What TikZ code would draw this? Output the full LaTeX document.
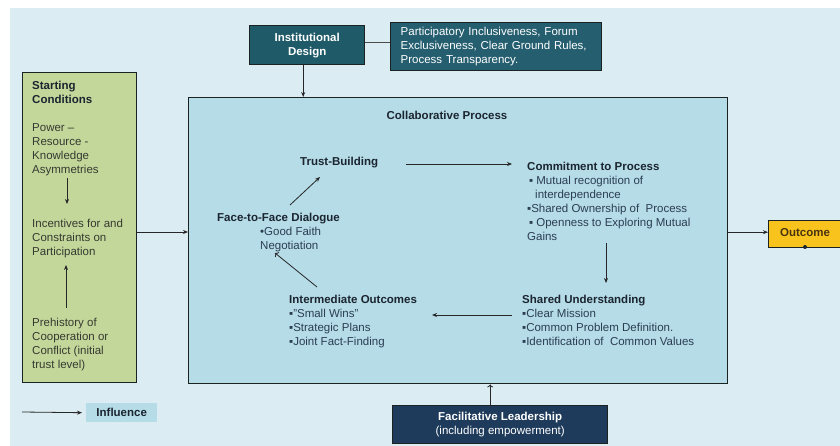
\documentclass[tikz,border=0pt]{standalone}
\usepackage{fontspec}
\setmainfont{Liberation Sans}
\usetikzlibrary{arrows.meta,calc}
\definecolor{bgblue}{HTML}{DCECF3}
\definecolor{procblue}{HTML}{B5DCE7}
\definecolor{scgreen}{HTML}{C4D79B}
\definecolor{idteal}{HTML}{1F5A68}
\definecolor{ptteal}{HTML}{245E6F}
\definecolor{flnavy}{HTML}{1E3B5B}
\definecolor{outgold}{HTML}{F7C31C}
\definecolor{headtxt}{HTML}{1B2530}
\definecolor{bodytxt}{HTML}{2C3D52}
\definecolor{sctxt}{HTML}{353A30}
\definecolor{outtxtc}{HTML}{4A3410}
\definecolor{edge}{HTML}{1A2222}
\begin{document}
\begin{tikzpicture}[x=1pt,y=-1pt,
  every node/.style={inner sep=0pt, font=\fontsize{11.5}{14}\selectfont},
  panel/.style={draw=edge, line width=1.4pt, anchor=north west},
  body/.style={align=left, anchor=north west, text=bodytxt},
  headtext/.style={font=\fontsize{11.5}{14}\selectfont\bfseries, text=headtxt},
  arr/.style={draw=black!85, line width=0.8pt, -{Stealth[length=5pt,width=4pt]}},
  openarr/.style={draw=black!85, line width=0.8pt, -{To[length=3pt,width=6pt]}}
]
\useasboundingbox (0,0) rectangle (840,446);
\fill[bgblue] (10,8) rectangle (840,446);

% boxes
\node[panel, fill=idteal, minimum width=115pt, minimum height=39pt,
      text=white, align=center, font=\fontsize{11.5}{14}\selectfont\bfseries] (id) at (249,25)
      {Institutional\\Design};
\node[panel, fill=ptteal, minimum width=211pt, minimum height=48pt, text width=191pt,
      inner xsep=10pt, text=white, align=left] (pt) at (390,22)
      {Participatory Inclusiveness, Forum\\Exclusiveness, Clear Ground Rules,\\Process Transparency.};
\node[panel, fill=scgreen, minimum width=114pt, minimum height=310pt] (sc) at (22,72) {};
\node[panel, fill=procblue, minimum width=539pt, minimum height=286pt] (collab) at (188,97) {};
\node[panel, fill=outgold, minimum width=74pt, minimum height=27pt] (outcome) at (768,220) {};
\node[text=outtxtc, font=\fontsize{11.5}{14}\selectfont\bfseries] (outtxt) at (805,233) {Outcome};
\fill[headtxt] (805,247) circle (2pt);
\node[panel, fill=flnavy, minimum width=215pt, minimum height=38pt, text=white, align=center] (fl) at (392,405)
      {\textbf{Facilitative Leadership}\\(including empowerment)};
\node[fill=procblue, minimum width=71pt, minimum height=19pt, anchor=north west,
      font=\fontsize{11.5}{14}\selectfont\bfseries, text=headtxt] (infl) at (86,403) {Influence};

% starting conditions text
\node[body, headtext] (schead) at (32,81) {Starting\\Conditions};
\node[body, text=sctxt] (power) at (32,123) {Power --\\Resource -\\Knowledge\\Asymmetries};
\node[body, text=sctxt] (inc) at (32,219) {Incentives for and\\Constraints on\\Participation};
\node[body, text=sctxt] (pre) at (32,318) {Prehistory of\\Cooperation or\\Conflict (initial\\trust level)};

% collaborative process text
\node[headtext] (title) at (447,115) {Collaborative Process};
\node[body, headtext] (trust) at (300,157) {Trust-Building};
\node[body] (commit) at (527,162)
  {\textcolor{headtxt}{\textbf{Commitment to Process}}\\
   \,▪ Mutual recognition of\\
   \hspace*{8pt}interdependence\\
   ▪Shared Ownership of\ \ Process\\
   \,▪ Openness to Exploring Mutual\\
   Gains};
\node[body] (shared) at (522,295)
  {\textcolor{headtxt}{\textbf{Shared Understanding}}\\
   ▪Clear Mission\\
   ▪Common Problem Definition.\\
   ▪Identification of\ \ Common Values};
\node[body] (inter) at (289,295)
  {\textcolor{headtxt}{\textbf{Intermediate Outcomes}}\\
   ▪"Small Wins"\\
   ▪Strategic Plans\\
   ▪Joint Fact-Finding};
\node[body] (face) at (217,213)
  {\textcolor{headtxt}{\textbf{Face-to-Face Dialogue}}\\
   \hspace*{43pt}•Good Faith\\
   \hspace*{43pt}Negotiation};

% connectors
\draw[line width=0.8pt, draw=black!70] (id.east |- 0,42) -- (pt.west |- 0,42);
\draw[arr] ($(id.south)+(-4,0)$) -- ($(id.south |- collab.north)+(-4,0)$);
\draw[arr] ($(sc.north east)+(0,160)$) -- ($(sc.north east -| collab.west)+(0,160)$);
\draw[arr] ($(outcome.west -| collab.east)+(0,-2)$) -- ($(outcome.west)+(0,-2)$);
\draw[openarr] ($(fl.north)+(-10,0)$) -- ($(fl.north |- collab.south)+(-10,0)$);
\draw[arr] ($(power.north west)+(35,55)$) -- ($(inc.north west)+(35,-15)$);
\draw[arr] ($(pre.north west)+(34,-10)$) -- ($(inc.north west)+(34,46)$);
\draw[arr] ($(trust.north west)+(106,7)$) -- ($(commit.north west)+(-15,2)$);
\draw[arr] ($(commit.north west)+(79,81)$) -- ($(shared.north west)+(84,-12)$);
\draw[arr] ($(shared.north west)+(-10,20)$) -- ($(inter.north west)+(143,20)$);
\draw[openarr] ($(inter.north west)+(28,-8)$) -- ($(face.north west)+(58,40)$);
\draw[arr] ($(face.north west)+(73,-8)$) -- ($(trust.north west)+(20,20)$);
\coordinate (legstart) at (22,412);
\draw[arr] (legstart) -- ($(infl.west)+(-4,0)$);
\end{tikzpicture}
\end{document}
